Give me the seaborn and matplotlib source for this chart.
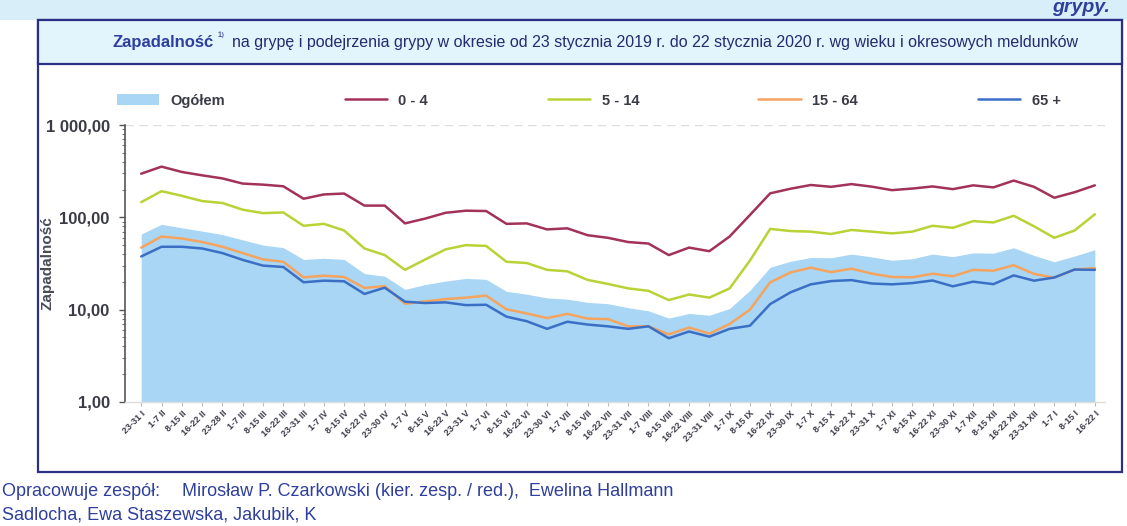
import matplotlib
matplotlib.use("Agg")
import matplotlib.pyplot as plt
import matplotlib.ticker as mticker
from matplotlib import font_manager
from matplotlib.patches import Rectangle, Patch
from matplotlib.lines import Line2D
import seaborn as sns
import numpy as np
import pandas as pd

# ── Data (incidence per reporting period, log scale) ───────────────
periods = [
    "23-31 I",
    "1-7 II", "8-15 II", "16-22 II", "23-28 II",
    "1-7 III", "8-15 III", "16-22 III", "23-31 III",
    "1-7 IV", "8-15 IV", "16-22 IV", "23-30 IV",
    "1-7 V", "8-15 V", "16-22 V", "23-31 V",
    "1-7 VI", "8-15 VI", "16-22 VI", "23-30 VI",
    "1-7 VII", "8-15 VII", "16-22 VII", "23-31 VII",
    "1-7 VIII", "8-15 VIII", "16-22 VIII", "23-31 VIII",
    "1-7 IX", "8-15 IX", "16-22 IX", "23-30 IX",
    "1-7 X", "8-15 X", "16-22 X", "23-31 X",
    "1-7 XI", "8-15 XI", "16-22 XI", "23-30 XI",
    "1-7 XII", "8-15 XII", "16-22 XII", "23-31 XII",
    "1-7 I", "8-15 I", "16-22 I",
]

ogolem = [66, 84, 77, 71, 65, 57, 50, 47, 35, 36, 35, 24.6, 23, 16.6, 18.7, 20.4,
          21.8, 21.3, 15.8, 14.7, 13.4, 13, 12, 11.6, 10.5, 9.7, 8.1, 9.1, 8.7, 10.3,
          16.2, 28.8, 33.4, 36.7, 36.5, 40, 37.3, 34.3, 35.6, 40, 37.5, 41.2, 40.9,
          46.8, 38.7, 33, 38.1, 44.6]
age_0_4 = [297, 354, 310, 285, 264, 232, 226, 217, 159, 177, 181, 134, 134, 86, 97,
           112, 118, 117, 85, 86, 74, 76, 64, 60, 54, 52, 39, 47, 43, 62, 106, 182,
           204, 224, 214, 229, 215, 197, 205, 216, 202, 222, 211, 250, 214, 163, 187, 222]
age_5_14 = [146, 192, 171, 150, 143, 121, 111, 113, 81, 85, 72, 46, 39, 27, 35, 45,
            50, 49, 33, 32, 27, 26, 21, 19, 17, 16, 12.7, 14.6, 13.5, 17, 34, 75, 71,
            70, 66, 73, 70, 67, 70, 81, 77, 91, 88, 104, 80, 60, 72, 108]
age_15_64 = [47, 62, 59, 54, 48, 41, 35, 33, 22.4, 23.3, 22.6, 17.2, 18, 11.6, 12.3,
             13, 13.5, 14.2, 10.1, 9.1, 8.1, 9, 8, 7.9, 6.6, 6.6, 5.4, 6.4, 5.5, 7, 10,
             19.8, 25.3, 28.5, 25.5, 27.8, 24.6, 22.6, 22.4, 24.5, 23, 27, 26.4, 30.3,
             24.4, 22.2, 27.2, 28.2]
age_65 = [37.7, 48, 48, 46, 41, 34.6, 30, 29, 19.8, 20.6, 20.3, 14.8, 17.3, 12.2, 11.8,
          12, 11.2, 11.3, 8.4, 7.5, 6.2, 7.4, 6.9, 6.6, 6.2, 6.6, 4.9, 5.8, 5.1, 6.2, 6.7,
          11.5, 15.4, 18.8, 20.4, 20.9, 19.2, 18.8, 19.4, 20.7, 17.9, 20.1, 18.9, 23.5,
          20.6, 22.3, 27.2, 27]

groups = ["0 - 4", "5 - 14", "15 - 64", "65 +"]
y_ticks = [1, 10, 100, 1000]
y_tick_labels = ["1,00", "10,00", "100,00", "1 000,00"]

# ── Style ──────────────────────────────────────────────────────────
NAVY = "#2b2f86"
BLUE = "#2e3f9e"
TEXT = "#3b3b48"
AREA = "#a8d6f4"
colors = {"0 - 4": "#a3325b", "5 - 14": "#b8d335",
          "15 - 64": "#f4a45e", "65 +": "#3b6fc6"}


def pick_font(names, fallback="DejaVu Sans"):
    for name in names:
        try:
            font_manager.findfont(name, fallback_to_default=False)
            return name
        except Exception:
            continue
    return fallback


NARROW = pick_font(["Liberation Sans Narrow", "Liberation Sans", "Roboto"])

sns.set_style("white")
plt.rcParams.update({
    "font.family": [NARROW, "DejaVu Sans"],
    "axes.linewidth": 1.0,
})

W, H = 1127, 526
fig = plt.figure(figsize=(W / 100, H / 100), dpi=100)
fig.patch.set_facecolor("white")


def fx(px):
    return px / W


def fy(py):
    return 1 - py / H


# page background strip + frame + title box (behind the axes)
fig.patches.append(Rectangle((0, fy(20)), 1, 20 / H, transform=fig.transFigure,
                             facecolor="#d8eef9", edgecolor="none", zorder=-3))
fig.patches.append(Rectangle((fx(38), fy(472)), fx(1122 - 38), (472 - 20) / H,
                             transform=fig.transFigure, facecolor="white",
                             edgecolor=NAVY, linewidth=1.6, zorder=-2))
fig.patches.append(Rectangle((fx(38), fy(64)), fx(1122 - 38), (64 - 20) / H,
                             transform=fig.transFigure, facecolor="#e2f4fc",
                             edgecolor=NAVY, linewidth=1.6, zorder=-1))

fig.text(fx(214), fy(43), "Zapadalność", ha="right", va="center",
         fontsize=12, fontweight="bold", color=BLUE)
fig.text(fx(218), fy(38), "¹⁾", ha="left", va="center", fontsize=9, color=NAVY)
fig.text(fx(232), fy(43),
         "na grypę i podejrzenia grypy w okresie od 23 stycznia 2019 r. do 22 stycznia 2020 r. "
         "wg wieku i okresowych meldunków",
         ha="left", va="center", fontsize=11.5, color="#262a6e")

# ── Chart ──────────────────────────────────────────────────────────
ax = fig.add_axes([fx(125), fy(402), fx(1105 - 125), (402 - 125) / H])
ax.set_zorder(2)
ax.patch.set_alpha(0)

x = np.arange(len(periods))
df = pd.DataFrame({
    "x": np.tile(x, 4),
    "grupa": np.repeat(groups, len(periods)),
    "value": age_0_4 + age_5_14 + age_15_64 + age_65,
})

ax.fill_between(x, 1, ogolem, color=AREA, linewidth=0, zorder=1)
sns.lineplot(data=df, x="x", y="value", hue="grupa", hue_order=groups,
             palette=colors, linewidth=1.8, legend=False, ax=ax, zorder=3)

ax.set_yscale("log")
ax.set_ylim(1, 1000)
ax.set_xlim(-0.8, len(periods) - 0.5)
ax.yaxis.grid(False)
ax.axhline(1000, color="#dddddd", linewidth=1, linestyle=(0, (6, 4)), zorder=0)

ax.set_yticks(y_ticks)
ax.set_yticklabels(y_tick_labels, fontsize=12, fontweight="bold", color=TEXT)
ax.yaxis.set_minor_locator(mticker.LogLocator(base=10, subs=np.arange(2, 10)))
ax.yaxis.set_minor_formatter(mticker.NullFormatter())
ax.tick_params(axis="y", which="major", left=True, length=4, width=1,
               color="#555555", pad=7)
ax.tick_params(axis="y", which="minor", left=True, length=2.5, width=0.8,
               color="#777777")

ax.set_xticks(x)
ax.set_xticklabels(periods, rotation=45, ha="right", rotation_mode="anchor",
                   fontsize=6.5, fontweight="bold", color=TEXT)
ax.tick_params(axis="x", bottom=True, length=3, width=0.8, color="#bbbbbb", pad=2)

for side in ["top", "right"]:
    ax.spines[side].set_visible(False)
ax.spines["left"].set_color("#555555")
ax.spines["left"].set_linewidth(1.2)
ax.spines["bottom"].set_color("#dddddd")

ax.set_xlabel("")
ax.set_ylabel("Zapadalność", fontsize=11, fontweight="bold", color="#4a4a55")
ax.yaxis.set_label_coords(-0.072, 0.5)

handles = [Patch(facecolor=AREA, edgecolor="none", label="Ogółem")] + \
          [Line2D([0], [0], color=colors[g], linewidth=1.8, label=g) for g in groups]
leg = ax.legend(handles=handles, loc="lower left", ncol=5, mode="expand",
                bbox_to_anchor=(-0.022, 1.015, 0.99, 0.08), frameon=False,
                handlelength=2.9, handleheight=0.8, handletextpad=0.8,
                prop={"size": 10.5, "weight": "bold"})
for t in leg.get_texts():
    t.set_color(TEXT)

# ── Footer text (page fragment) ────────────────────────────────────
fig.text(fx(2), fy(492), "Opracowuje zespół:", ha="left", va="center",
         fontsize=13, color=BLUE)
fig.text(fx(182), fy(492),
         "Mirosław P. Czarkowski (kier. zesp. / red.),  Ewelina Hallmann",
         ha="left", va="center", fontsize=13, color=BLUE)
fig.text(fx(2), fy(515), "Sadlocha, Ewa Staszewska, Jakubik, K",
         ha="left", va="center", fontsize=13, color=BLUE)
fig.text(fx(1110), fy(8), "grypy.", ha="right", va="center", fontsize=14,
         fontweight="bold", fontstyle="italic", color=BLUE)

fig.savefig("out.png", dpi=100, facecolor=fig.get_facecolor())
